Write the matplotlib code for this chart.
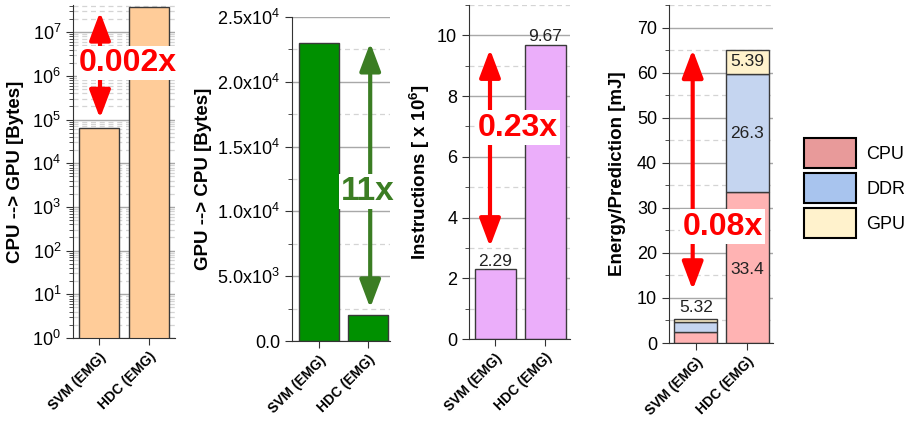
import numpy as np
import matplotlib
matplotlib.use('Agg')
import matplotlib.pyplot as plt
from matplotlib.patches import Patch
from matplotlib.ticker import MultipleLocator, LogLocator, NullFormatter

plt.rcParams['font.family'] = ['Liberation Sans', 'DejaVu Sans']
plt.rcParams['mathtext.fontset'] = 'custom'
plt.rcParams['mathtext.rm'] = 'Liberation Sans'
plt.rcParams['mathtext.bf'] = 'Liberation Sans:bold'
plt.rcParams['mathtext.it'] = 'Liberation Sans:italic'

models = ['SVM (EMG)', 'HDC (EMG)']
cpu_to_gpu = [6.3e4, 3.7e7]
gpu_to_cpu = [2.3e4, 2.0e3]
instructions = [2.29, 9.67]
energy_cpu = [2.45, 33.4]
energy_ddr = [2.25, 26.3]
energy_gpu = [0.62, 5.39]
energy_total = [5.32, 65.09]

W, H = 907, 422
fig = plt.figure(figsize=(W / 100, H / 100), dpi=100)

def box(l, r, t, b):
    return [l / W, (H - b) / H, (r - l) / W, (b - t) / H]

ax1 = fig.add_axes(box(73, 175, 5, 338))
ax2 = fig.add_axes(box(292, 390, 17, 341))
ax3 = fig.add_axes(box(469, 570, 5, 339))
ax4 = fig.add_axes(box(669, 773, 5, 343))

x = np.arange(len(models))
edge = '#3a3a3a'
lab_fs = 13.5

def style(ax):
    ax.spines['top'].set_visible(False)
    ax.spines['right'].set_visible(False)
    ax.spines['left'].set_color('#333333')
    ax.spines['bottom'].set_color('#333333')
    ax.set_axisbelow(True)
    ax.grid(True, which='major', axis='y', color='#a8a8a8', lw=1.0, ls='-')
    ax.grid(True, which='minor', axis='y', color='#d4d4d4', lw=0.9, ls=(0, (4, 3)))
    ax.tick_params(axis='y', which='major', direction='out', length=5, labelsize=13, color='#333333')
    ax.tick_params(axis='y', which='minor', direction='out', length=3, color='#333333')
    ax.tick_params(axis='x', direction='out', length=5, color='#333333')
    ax.set_xticks(x)
    ax.set_xticklabels(models, rotation=45, ha='right', rotation_mode='anchor',
                       fontsize=10, fontweight='bold')

def arrow(ax, xa, y0, y1, color):
    ax.annotate('', xy=(xa, y1), xytext=(xa, y0),
                arrowprops=dict(arrowstyle='<|-|>,head_length=0.85,head_width=0.32',
                                color=color, lw=3, mutation_scale=20,
                                shrinkA=0, shrinkB=0))

def ratio(ax, xt, yt, s, color, size=23):
    ax.text(xt, yt, s, color=color, fontsize=size, fontweight='bold',
            ha='center', va='center',
            bbox=dict(facecolor='white', edgecolor='none', pad=1.5))

# panel 1
ax1.set_yscale('log')
ax1.bar(x, cpu_to_gpu, width=0.8, color='#ffcc99', edgecolor=edge, lw=1)
ax1.set_ylim(1, 4.2e7)
ax1.set_xlim(-0.52, 1.52)
ax1.yaxis.set_major_locator(LogLocator(base=10, numticks=10))
ax1.yaxis.set_minor_locator(LogLocator(base=10, subs=np.arange(2, 10), numticks=20))
ax1.yaxis.set_minor_formatter(NullFormatter())
style(ax1)
ax1.set_ylabel('CPU --> GPU [Bytes]', fontsize=lab_fs, fontweight='bold')
ax1.yaxis.set_label_coords(-0.48, 0.5)
arrow(ax1, 0.02, 1.07e5, 2.9e7, 'red')
ratio(ax1, 0.58, 1.96e6, '0.002x', 'red')

# panel 2
ax2.bar(x, gpu_to_cpu, width=0.8, color='#009000', edgecolor=edge, lw=1)
ax2.set_ylim(0, 2.5e4)
ax2.set_xlim(-0.54, 1.44)
ax2.yaxis.set_minor_locator(MultipleLocator(2500))
style(ax2)
ax2.set_yticks([0, 5000, 10000, 15000, 20000, 25000])
ax2.set_yticklabels(['0.0', '5.0x10$^3$', '1.0x10$^4$', '1.5x10$^4$', '2.0x10$^4$', '2.5x10$^4$'])
ax2.set_ylabel('GPU --> CPU [Bytes]', fontsize=lab_fs, fontweight='bold')
ax2.yaxis.set_label_coords(-0.82, 0.5)
arrow(ax2, 1.04, 2550, 2.3e4, '#3b7d23')
ratio(ax2, 1.0, 11500, '11x', '#3b7d23', size=24)

# panel 3
ax3.bar(x, instructions, width=0.82, color='#ebaefa', edgecolor=edge, lw=1)
ax3.set_ylim(0, 11)
ax3.set_xlim(-0.52, 1.5)
ax3.yaxis.set_major_locator(MultipleLocator(2))
ax3.yaxis.set_minor_locator(MultipleLocator(1))
style(ax3)
ax3.set_ylabel(r'Instructions [ x 10$^\mathbf{6}$]', fontsize=lab_fs, fontweight='bold')
ax3.yaxis.set_label_coords(-0.37, 0.5)
for xi, v in zip(x, instructions):
    ax3.text(xi, v + 0.03, f'{v:.2f}', ha='center', va='bottom', fontsize=12.5, color='#222222')
arrow(ax3, -0.1, 3.04, 9.54, 'red')
ratio(ax3, 0.46, 6.96, '0.23x', 'red')

# panel 4
c_cpu, c_ddr, c_gpu = '#ffb3b3', '#c5d5f0', '#fff2cc'
ax4.bar(x, energy_cpu, width=0.84, color=c_cpu, edgecolor=edge, lw=1)
ax4.bar(x, energy_ddr, width=0.84, bottom=energy_cpu, color=c_ddr, edgecolor=edge, lw=1)
bot = np.array(energy_cpu) + np.array(energy_ddr)
ax4.bar(x, energy_gpu, width=0.84, bottom=bot, color=c_gpu, edgecolor=edge, lw=1)
ax4.set_ylim(0, 75)
ax4.set_xlim(-0.52, 1.5)
ax4.yaxis.set_major_locator(MultipleLocator(10))
ax4.yaxis.set_minor_locator(MultipleLocator(5))
style(ax4)
ax4.set_ylabel('Energy/Prediction [mJ]', fontsize=lab_fs, fontweight='bold')
ax4.yaxis.set_label_coords(-0.41, 0.5)
ax4.text(0, energy_total[0] + 1, f'{energy_total[0]:.2f}', ha='center', va='bottom', fontsize=12.5, color='#222222')
ax4.text(1, energy_cpu[1] - 17, f'{energy_cpu[1]:.1f}', ha='center', va='center', fontsize=12.5, color='#222222')
ax4.text(1, energy_cpu[1] + energy_ddr[1] / 2, f'{energy_ddr[1]:.1f}', ha='center', va='center', fontsize=12.5, color='#222222')
ax4.text(1, bot[1] + energy_gpu[1] / 2, f'{energy_gpu[1]:.2f}', ha='center', va='center', fontsize=12.5, color='#222222')
arrow(ax4, -0.06, 11.8, 65.1, 'red')
ratio(ax4, 0.52, 25.8, '0.08x', 'red', size=23)

handles = [Patch(facecolor='#e89a9a', edgecolor='black', lw=1.5, label='CPU'),
           Patch(facecolor='#a8c4ee', edgecolor='black', lw=1.5, label='DDR'),
           Patch(facecolor='#fff2cc', edgecolor='black', lw=1.5, label='GPU')]
fig.legend(handles=handles, loc='center left', bbox_to_anchor=(804 / W, (H - 188) / H),
           frameon=False, fontsize=13, handlelength=2.9, handleheight=2.15,
           labelspacing=0.3, handletextpad=0.55, borderaxespad=0, borderpad=0)

fig.savefig('out.png', dpi=100)
